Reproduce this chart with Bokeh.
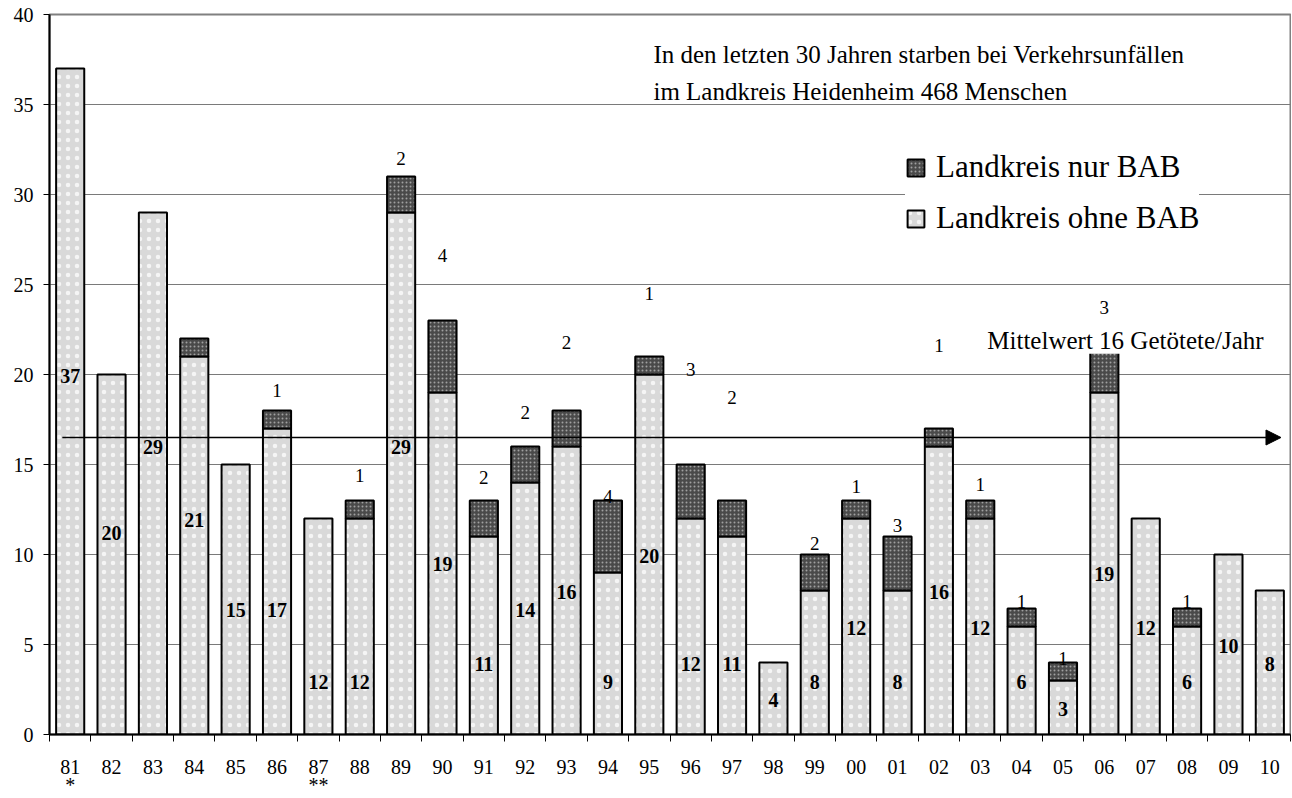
from bokeh.plotting import figure
from bokeh.models import (Range1d, FixedTicker, Legend, LegendItem, Label, Arrow,
                          NormalHead, ColumnDataSource)
from bokeh.embed import file_html
from bokeh.resources import INLINE
from bokeh.core.properties import value

# ---------------- data ----------------
years = ["81", "82", "83", "84", "85", "86", "87", "88", "89", "90",
         "91", "92", "93", "94", "95", "96", "97", "98", "99", "00",
         "01", "02", "03", "04", "05", "06", "07", "08", "09", "10"]
ohne_bab = [37, 20, 29, 21, 15, 17, 12, 12, 29, 19,
            11, 14, 16, 9, 20, 12, 11, 4, 8, 12,
            8, 16, 12, 6, 3, 19, 12, 6, 10, 8]
nur_bab = [0, 0, 0, 1, 0, 1, 0, 1, 2, 4,
           2, 2, 2, 4, 1, 3, 2, 0, 2, 1,
           3, 1, 1, 1, 1, 3, 0, 1, 0, 0]
# where the original chart placed its value labels (in chart units)
ohne_label_y = [19.9, 11.2, 16.0, 11.9, 6.9, 6.9, 2.9, 2.9, 16.0, 9.5,
                3.9, 6.9, 7.9, 2.9, 9.9, 3.9, 3.9, 1.9, 2.9, 5.9,
                2.9, 7.9, 5.9, 2.9, 1.4, 8.9, 5.9, 2.9, 4.9, 3.9]
nur_label_y = [None, None, None, None, None, 19.1, None, 14.4, 32.0, 26.6,
               14.3, 17.9, 21.8, 13.2, 24.5, 20.3, 18.7, None, 10.6, 13.8,
               11.6, 21.6, 13.9, 7.4, 4.2, 23.7, None, 7.4, None, None]
mittelwert = 16.5
year_marks = {"81": "*", "87": "**"}
y_ticks = [0, 5, 10, 15, 20, 25, 30, 35, 40]

FONT = "Liberation Serif"
n = len(years)
xc = [i + 0.5 for i in range(n)]

p = figure(frame_width=1241, frame_height=720,
           x_range=Range1d(0, n), y_range=Range1d(0, 40),
           output_backend="svg", toolbar_location=None,
           min_border_left=49, min_border_right=1,
           min_border_top=14, min_border_bottom=63,
           background_fill_color="white", border_fill_color="white")
p.outline_line_color = "#808080"
p.outline_line_width = 2

# grid
p.xgrid.visible = False
p.ygrid.ticker = FixedTicker(ticks=y_ticks)
p.ygrid.grid_line_color = "#7a7a7a"
p.ygrid.grid_line_width = 1.2

# y axis
p.yaxis.ticker = FixedTicker(ticks=y_ticks)
p.yaxis.axis_line_color = "black"
p.yaxis.axis_line_width = 2
p.yaxis.major_tick_out = 6
p.yaxis.major_tick_in = 0
p.yaxis.major_tick_line_color = "black"
p.yaxis.minor_tick_line_color = None
p.yaxis.major_label_text_font = FONT
p.yaxis.major_label_text_font_size = "20px"
p.yaxis.major_label_text_color = "black"
p.yaxis.major_label_standoff = 10

# x axis: labels at centres (with the footnote marks on a second line),
# ticks at category boundaries
x_labels = [yr + ("\n" + year_marks[yr] if yr in year_marks else "") for yr in years]
p.xaxis.ticker = FixedTicker(ticks=xc, minor_ticks=list(range(n + 1)))
p.xaxis.major_label_overrides = {x: t for x, t in zip(xc, x_labels)}
p.xaxis.axis_line_color = "black"
p.xaxis.axis_line_width = 2
p.xaxis.major_tick_line_color = None
p.xaxis.major_tick_out = 0
p.xaxis.major_tick_in = 0
p.xaxis.minor_tick_line_color = "black"
p.xaxis.minor_tick_out = 7
p.xaxis.minor_tick_in = 0
p.xaxis.major_label_text_font = FONT
p.xaxis.major_label_text_font_size = "20px"
p.xaxis.major_label_text_color = "black"
p.xaxis.major_label_text_line_height = 0.85
p.xaxis.major_label_standoff = 14

# bars
src_base = ColumnDataSource(dict(x=xc, top=ohne_bab))
r_base = p.vbar(x="x", top="top", bottom=0, width=0.68, source=src_base,
                fill_color="#d9d9d9", line_color="black", line_width=2,
                hatch_pattern="dot", hatch_color="white", hatch_scale=9,
                hatch_weight=1.0, hatch_alpha=0.75)

bx = [xc[i] for i in range(n) if nur_bab[i] > 0]
bb = [ohne_bab[i] for i in range(n) if nur_bab[i] > 0]
bt = [ohne_bab[i] + nur_bab[i] for i in range(n) if nur_bab[i] > 0]
src_bab = ColumnDataSource(dict(x=bx, bottom=bb, top=bt))
r_bab = p.vbar(x="x", top="top", bottom="bottom", width=0.68, source=src_bab,
               fill_color="#4a4a4a", line_color="black", line_width=2,
               hatch_pattern="dot", hatch_color="#a0a0a0", hatch_scale=4,
               hatch_weight=1.2, hatch_alpha=1.0)

# value labels
p.text(x=xc, y=ohne_label_y, text=[str(v) for v in ohne_bab],
       text_font=value(FONT), text_font_size="20px", text_font_style="bold",
       text_align="center", text_baseline="middle", text_color="black")
lx = [xc[i] for i in range(n) if nur_label_y[i] is not None]
ly = [nur_label_y[i] for i in range(n) if nur_label_y[i] is not None]
lt = [str(nur_bab[i]) for i in range(n) if nur_label_y[i] is not None]
p.text(x=lx, y=ly, text=lt, text_font=value(FONT), text_font_size="19px",
       text_align="center", text_baseline="middle", text_color="black")

# mean arrow
p.add_layout(Arrow(x_start=0.31, y_start=mittelwert, x_end=29.77, y_end=mittelwert,
                   line_color="black", line_width=1.5,
                   end=NormalHead(size=15, fill_color="black", line_color="black")))
p.add_layout(Label(x=29.35, y=21.9, text="Mittelwert 16 Getötete/Jahr",
                   text_font=FONT, text_font_size="25px", text_align="right",
                   text_baseline="middle", text_color="black",
                   background_fill_color="white"))

# annotation text
p.add_layout(Label(x=14.6, y=37.8, text="In den letzten 30 Jahren starben bei Verkehrsunfällen",
                   text_font=FONT, text_font_size="25px", text_align="left",
                   text_baseline="middle", text_color="black"))
p.add_layout(Label(x=14.6, y=35.75, text="im Landkreis Heidenheim 468 Menschen",
                   text_font=FONT, text_font_size="25px", text_align="left",
                   text_baseline="middle", text_color="black"))

legend = Legend(items=[LegendItem(label="Landkreis nur BAB", renderers=[r_bab]),
                       LegendItem(label="Landkreis ohne BAB", renderers=[r_base])],
                location=(856, 498), border_line_color=None,
                background_fill_color="white", background_fill_alpha=1.0,
                label_text_font=FONT, label_text_font_size="31px",
                label_text_color="black", glyph_width=21, glyph_height=21,
                label_standoff=10, spacing=15, padding=10)
p.add_layout(legend)

open("out.html", "w").write(file_html(p, INLINE))
